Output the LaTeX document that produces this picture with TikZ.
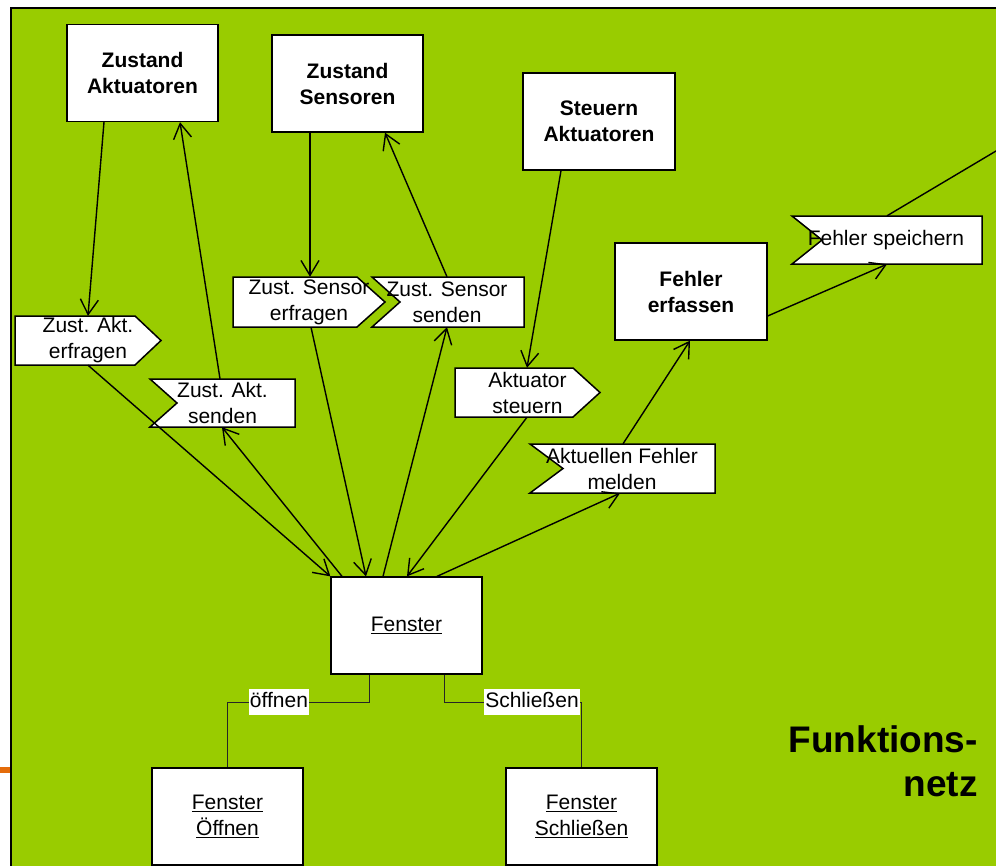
\documentclass[tikz,border=0pt]{standalone}
\usepackage{fontspec}
\setmainfont{Liberation Sans}
\usetikzlibrary{arrows.meta}
\definecolor{frameGreen}{RGB}{153,204,0}
\definecolor{orangeMark}{RGB}{228,108,10}
\begin{document}
\begin{tikzpicture}[x=1pt,y=-1pt,
  box/.style={draw=black,line width=1.3pt,fill=white,inner sep=0pt,minimum width=151pt,minimum height=97pt,align=center,font=\fontsize{21}{26}\selectfont},
  boldbox/.style={box,font=\fontsize{21}{26}\selectfont\bfseries},
  sigtext/.style={inner sep=0pt,align=center,font=\fontsize{21}{26}\selectfont},
  sigshape/.style={draw=black,line width=1.5pt,fill=white,line join=miter},
  arr/.style={line width=1.4pt,-{Straight Barb[length=15pt,width=18pt]}},
  plainline/.style={line width=1.4pt},
  ortho/.style={line width=1pt,draw=black!85},
  lbl/.style={fill=white,inner xsep=1pt,inner ysep=2.5pt,text height=16pt,text depth=5pt,font=\fontsize{21}{26}\selectfont},
  title/.style={inner sep=0pt,align=right,font=\fontsize{37}{44}\selectfont\bfseries}
]
\useasboundingbox (0,0) rectangle (996,865);
\begin{scope}
\clip (0,0) rectangle (996,865);
\fill[white] (0,0) rectangle (996,865);
\draw[fill=frameGreen,line width=2pt] (11,8) rectangle (1010,880);
\fill[orangeMark] (0,767) rectangle (10,773);

% main boxes
\node[boldbox] (za) at (142.5,73) {Zustand\\Aktuatoren};
\node[boldbox] (zs) at (347.5,83.5) {Zustand\\Sensoren};
\node[boldbox,minimum width=152pt] (sa) at (599,121.5) {Steuern\\Aktuatoren};
\node[boldbox,minimum width=152pt] (fe) at (691,291.5) {Fehler\\erfassen};
\node[box] (fen) at (406.5,625.5) {\underline{Fenster}};
\node[box] (fo) at (227.5,816.5) {\underline{Fenster}\\\underline{Öffnen}};
\node[box] (fs) at (581.5,816.5) {\underline{Fenster}\\\underline{Schließen}};

% signal shapes
\path[sigshape] (15,316) -- (135,316) -- (161,340.5) -- (135,365) -- (15,365) -- cycle;
\node[sigtext,minimum width=146pt,minimum height=49pt] (sAe) at (88,340.5) {Zust. Akt.\\erfragen};

\path[sigshape] (150,379) -- (295,379) -- (295,427) -- (150,427) -- (177,403) -- cycle;
\node[sigtext,minimum width=145pt,minimum height=48pt] (sAs) at (222.5,403) {Zust. Akt.\\senden};

\path[sigshape] (233,277) -- (357,277) -- (385,302) -- (357,327) -- (233,327) -- cycle;
\node[sigtext,minimum width=152pt,minimum height=50pt] (sSe) at (309,302) {Zust. Sensor\\erfragen};

\path[sigshape] (372,277) -- (524,277) -- (524,327) -- (372,327) -- (400,302) -- cycle;
\node[sigtext,minimum width=152pt,minimum height=50pt] (sSs) at (447,302) {Zust. Sensor\\senden};

\path[sigshape] (455,368) -- (573,368) -- (600,392.5) -- (573,417) -- (455,417) -- cycle;
\node[sigtext,minimum width=145pt,minimum height=49pt] (sAst) at (527.5,392.5) {Aktuator\\steuern};

\path[sigshape] (530,444) -- (715,444) -- (715,493) -- (530,493) -- (563,468.5) -- cycle;
\node[sigtext,minimum width=185pt,minimum height=49pt] (sFm) at (622,468.5) {Aktuellen Fehler\\melden};

\path[sigshape] (792,216) -- (982,216) -- (982,264) -- (792,264) -- (822,240) -- cycle;
\node[sigtext,minimum width=190pt,minimum height=48pt] (sFsp) at (886,240) {Fehler speichern};

\coordinate (exit) at (1010,142.7);

% connectors
\draw[arr] ([xshift=-38.5pt]za.south) -- (sAe.north);
\draw[arr] ([xshift=-2.5pt]sAs.north) -- ([xshift=37.5pt]za.south);
\draw[arr] (sAe.south) -- (fen.north west);
\draw[arr] ([xshift=-64.5pt]fen.north) -- ([xshift=-0.5pt]sAs.south);
\draw[arr] ([xshift=2pt]sSe.south) -- ([xshift=-40.5pt]fen.north);
\draw[arr] ([xshift=-37.5pt]zs.south) -- ([xshift=1pt]sSe.north);
\draw[arr] (sSs.north) -- ([xshift=37.5pt]zs.south);
\draw[arr] ([xshift=-23.5pt]fen.north) -- (sSs.south);
\draw[arr] ([xshift=-38pt]sa.south) -- ([xshift=-0.5pt]sAst.north);
\draw[arr] ([xshift=-0.5pt]sAst.south) -- ([xshift=0.5pt]fen.north);
\draw[arr] ([xshift=30.5pt]fen.north) -- ([xshift=-2pt]sFm.south);
\draw[arr] ([xshift=1pt]sFm.north) -- ([xshift=-1pt]fe.south);
\draw[arr] ([yshift=-24.5pt]fe.east) -- ([xshift=1pt]sFsp.south);
\draw[plainline] ([xshift=1pt]sFsp.north) -- (exit);

% orthogonal connectors
\coordinate (kO) at (227.5,702);
\coordinate (kS) at (581.5,702);
\draw[ortho] ([xshift=-37.5pt]fen.south) |- (kO) -- (fo.north);
\draw[ortho] ([xshift=37.5pt]fen.south) |- (kS) -- (fs.north);
\node[lbl] (lo) at (279,702) {öffnen};
\node[lbl] (ls) at (532,702) {Schließen};

% title
\node[title,anchor=north east] (ttl) at (978,725) {Funktions-\\netz};
\end{scope}
\end{tikzpicture}
\end{document}
